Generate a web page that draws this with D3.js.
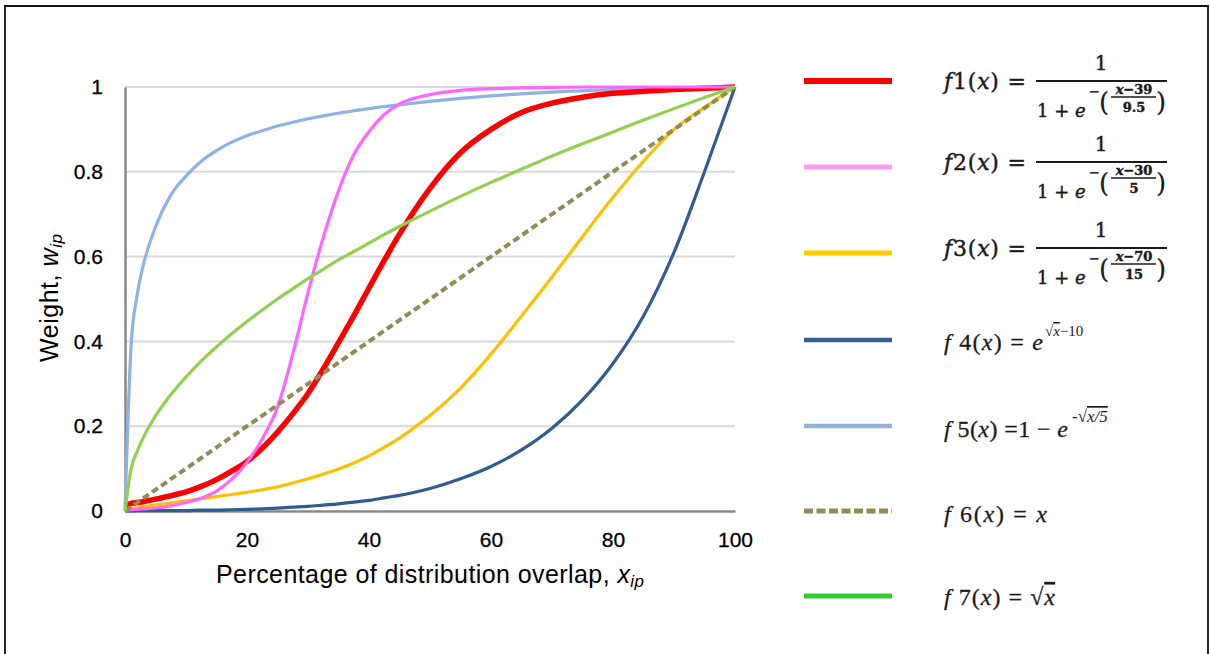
<!DOCTYPE html>
<html>
<head>
<meta charset="utf-8">
<script src="https://cdn.jsdelivr.net/npm/d3@7"></script>
<style>
  body { margin: 0; background: #fff; }
  svg { display: block; }
</style>
</head>
<body>
<svg id="root"></svg>
<script>
// shared x samples (percentage of overlap)
const xs = [0, 1, 2, 3, 5, 7.5, 10, 12.5, 15, 17.5, 20, 22.5, 25, 27.5, 30, 32.5, 35, 37.5, 40, 42.5, 45, 50, 55, 60, 65, 70, 75, 80, 85, 90, 95, 100];

const f1 = [0.012, 0.018, 0.02, 0.022, 0.028, 0.036, 0.045, 0.058, 0.074, 0.094, 0.117, 0.148, 0.186, 0.229, 0.277, 0.335, 0.397, 0.46, 0.526, 0.591, 0.653, 0.761, 0.845, 0.9, 0.94, 0.962, 0.976, 0.985, 0.99, 0.994, 0.997, 1.0];
const f2 = [0.002, 0.003, 0.004, 0.005, 0.007, 0.012, 0.02, 0.03, 0.047, 0.075, 0.115, 0.17, 0.245, 0.37, 0.515, 0.645, 0.755, 0.84, 0.895, 0.935, 0.96, 0.982, 0.992, 0.996, 0.998, 0.999, 1.0, 1.0, 1.0, 1.0, 1.0, 1.0];
const f3 = [0.004, 0.006, 0.008, 0.01, 0.014, 0.019, 0.024, 0.029, 0.034, 0.039, 0.044, 0.05, 0.057, 0.066, 0.076, 0.087, 0.099, 0.113, 0.13, 0.15, 0.172, 0.225, 0.29, 0.37, 0.46, 0.552, 0.647, 0.74, 0.825, 0.9, 0.952, 1.0];
const f4 = [0, 0, 0.001, 0.001, 0.001, 0.001, 0.001, 0.002, 0.002, 0.003, 0.004, 0.005, 0.007, 0.009, 0.011, 0.014, 0.017, 0.021, 0.025, 0.031, 0.037, 0.053, 0.076, 0.105, 0.144, 0.195, 0.262, 0.348, 0.46, 0.61, 0.8, 1.0];
const f5 = [0, 0.39, 0.51, 0.58, 0.67, 0.745, 0.79, 0.825, 0.85, 0.87, 0.885, 0.897, 0.908, 0.917, 0.925, 0.932, 0.938, 0.944, 0.949, 0.954, 0.958, 0.966, 0.973, 0.979, 0.984, 0.988, 0.991, 0.994, 0.996, 0.998, 0.999, 1.0];
const f6 = [0, 0.01, 0.02, 0.03, 0.05, 0.075, 0.1, 0.125, 0.15, 0.175, 0.2, 0.225, 0.25, 0.275, 0.3, 0.325, 0.35, 0.375, 0.4, 0.425, 0.45, 0.5, 0.55, 0.6, 0.65, 0.7, 0.75, 0.8, 0.85, 0.9, 0.95, 1.0];
const f7 = [0, 0.1, 0.141, 0.173, 0.224, 0.274, 0.316, 0.354, 0.387, 0.418, 0.447, 0.474, 0.5, 0.524, 0.548, 0.57, 0.592, 0.612, 0.632, 0.652, 0.671, 0.707, 0.742, 0.775, 0.806, 0.837, 0.866, 0.894, 0.922, 0.949, 0.975, 1.0];

const seriesNames = ['f1', 'f2', 'f3', 'f4', 'f5', 'f6', 'f7'];
const lineColors = ['#ff0000', '#ff66ff', '#ffc000', '#2f5d8f', '#8db3e2', '#948a54', '#92d050'];
const legendColors = ['#ff0000', '#ff99f5', '#ffcc00', '#3a6190', '#95b3d7', '#948a54', '#33cc33'];

const xTicks = [0, 20, 40, 60, 80, 100];
const yTicks = [0, 0.2, 0.4, 0.6, 0.8, 1];
const yTickLabels = ['0', '0.2', '0.4', '0.6', '0.8', '1'];

// sigmoid legend params: centre, spread
const sigCentres = ['39', '30', '70'];
const sigSpreads = ['9.5', '5', '15'];

const W = 1210, H = 654;
const svg = d3.select('#root').attr('width', W).attr('height', H);

const x = d3.scaleLinear().domain([0, 100]).range([125, 735]);
const y = d3.scaleLinear().domain([0, 1]).range([511, 87]);

// outer frame
svg.append('path').attr('d', `M5,${H}V6H1208V${H}`)
  .attr('fill', 'none').attr('stroke', '#111').attr('stroke-width', 1.8);

// gridlines
svg.append('g').selectAll('line')
  .data(yTicks.slice(1))
  .join('line')
    .attr('x1', x(0)).attr('x2', x(100))
    .attr('y1', d => y(d)).attr('y2', d => y(d))
    .attr('stroke', '#d9d9d9').attr('stroke-width', 2);

// axes
const axisFont = '"Liberation Sans", Arial, sans-serif';
const gx = svg.append('g')
  .attr('transform', `translate(0, ${y(0)})`)
  .call(d3.axisBottom(x).tickValues(xTicks).tickSize(0).tickSizeOuter(0).tickPadding(21));
const gy = svg.append('g')
  .attr('transform', `translate(${x(0)}, 0)`)
  .call(d3.axisLeft(y).tickValues(yTicks).tickFormat((d, i) => yTickLabels[i]).tickSize(0).tickSizeOuter(0).tickPadding(22));
[gx, gy].forEach(g => {
  g.select('.domain').attr('stroke', '#878787').attr('stroke-width', 2.5);
  g.selectAll('text').attr('font-family', axisFont).attr('font-size', 21).attr('fill', '#000')
    .attr('stroke', '#000').attr('stroke-width', 0.3);
});

// axis titles
svg.append('text')
  .attr('x', 430).attr('y', 583)
  .attr('text-anchor', 'middle')
  .attr('font-family', axisFont).attr('font-size', 25)
  .attr('textLength', 428).attr('lengthAdjust', 'spacing')
  .call(t => {
    t.append('tspan').text('Percentage of distribution overlap,  ');
    t.append('tspan').attr('font-style', 'italic').text('x');
    t.append('tspan').attr('font-style', 'italic').attr('font-size', 17).attr('dy', 4).text('ip');
  });
svg.append('text')
  .attr('transform', 'translate(58, 298) rotate(-90)')
  .attr('text-anchor', 'middle')
  .attr('font-family', axisFont).attr('font-size', 25)
  .attr('textLength', 128).attr('lengthAdjust', 'spacing')
  .call(t => {
    t.append('tspan').text('Weight, ');
    t.append('tspan').attr('font-style', 'italic').text('w');
    t.append('tspan').attr('font-style', 'italic').attr('font-size', 17).attr('dy', 4).text('ip');
  });

// curves
const allSeries = [f1, f2, f3, f4, f5, f6, f7];
const widths = [5.5, 3.2, 3.2, 3.2, 3.2, 4, 3.2];
const line = d3.line()
  .x((d, i) => x(xs[i]))
  .y(d => y(d))
  .curve(d3.curveMonotoneX);

const drawOrder = [3, 2, 4, 0, 1, 5, 6];
svg.append('g').selectAll('path')
  .data(drawOrder)
  .join('path')
    .attr('d', k => line(allSeries[k]))
    .attr('fill', 'none')
    .attr('stroke', k => lineColors[k])
    .attr('stroke-width', k => widths[k])
    .attr('stroke-dasharray', k => k === 5 ? '7,4' : null)
    .attr('stroke-linejoin', 'round');

// legend
const legendY = [81, 167, 253, 340, 426, 511, 596];
const legendW = [6, 5, 5, 4.5, 4.5, 5, 5];
const leg = svg.append('g');
leg.selectAll('line')
  .data(seriesNames)
  .join('line')
    .attr('x1', 804).attr('x2', 892)
    .attr('y1', (d, i) => legendY[i]).attr('y2', (d, i) => legendY[i])
    .attr('stroke', (d, i) => legendColors[i])
    .attr('stroke-width', (d, i) => legendW[i])
    .attr('stroke-dasharray', (d, i) => i === 5 ? '9,3.5' : null);

const mathFont = '"DejaVu Serif", serif';
const timesFont = '"Liberation Serif", "Times New Roman", serif';
const ink = '#1b1b1b';

// sigmoid formulas f1..f3
[0, 1, 2].forEach(i => {
  const by = legendY[i] - (i === 0 ? 0 : 5);
  const g = leg.append('g').attr('font-family', mathFont).attr('fill', ink)
    .attr('stroke', ink).attr('stroke-width', 0.45);
  g.append('text').attr('x', 944).attr('y', by + 8).attr('font-size', 22)
    .attr('textLength', 82).attr('lengthAdjust', 'spacing')
    .call(t => {
      t.append('tspan').attr('font-style', 'italic').text('f');
      t.append('tspan').text(seriesNames[i].slice(1) + '(');
      t.append('tspan').attr('font-style', 'italic').text('x');
      t.append('tspan').text(') =');
    });
  g.append('line').attr('x1', 1036).attr('x2', 1167).attr('y1', by).attr('y2', by)
    .attr('stroke', ink).attr('stroke-width', 1.8);
  g.append('text').attr('x', 1101).attr('y', by - 11).attr('text-anchor', 'middle')
    .attr('font-size', 20).text('1');
  g.append('text').attr('x', 1037).attr('y', by + 36).attr('font-size', 18)
    .call(t => {
      t.append('tspan').text('1 + ');
      t.append('tspan').attr('font-style', 'italic').text('e');
    });
  g.append('text').attr('x', 1089).attr('y', by + 15).attr('font-size', 13).text('−');
  g.append('text').attr('x', 1099).attr('y', by + 30).attr('font-size', 26).attr('stroke-width', 0.2).text('(');
  g.append('text').attr('x', 1156).attr('y', by + 30).attr('font-size', 26).attr('stroke-width', 0.2).text(')');
  g.append('text').attr('x', 1134).attr('y', by + 13).attr('text-anchor', 'middle').attr('font-size', 13)
    .attr('font-weight', 'bold')
    .call(t => {
      t.append('tspan').attr('font-style', 'italic').text('x');
      t.append('tspan').text('−' + sigCentres[i]);
    });
  g.append('line').attr('x1', 1111).attr('x2', 1156).attr('y1', by + 16).attr('y2', by + 16)
    .attr('stroke', ink).attr('stroke-width', 1.3);
  g.append('text').attr('x', 1134).attr('y', by + 31).attr('text-anchor', 'middle').attr('font-size', 13)
    .attr('font-weight', 'bold').text(sigSpreads[i]);
});

// f4..f7 (Times-style)
function label(i, baseY, rest, len) {
  const t = leg.append('text').attr('x', 944).attr('y', baseY)
    .attr('font-family', timesFont).attr('font-size', 24).attr('fill', ink)
    .attr('stroke', ink).attr('stroke-width', 0.3)
    .attr('textLength', len).attr('lengthAdjust', 'spacing');
  t.append('tspan').attr('font-style', 'italic').text('f');
  t.append('tspan').text(' ' + seriesNames[i].slice(1) + '(');
  t.append('tspan').attr('font-style', 'italic').text('x');
  t.append('tspan').text(')');
  rest(t);
  return t;
}
label(3, 350, t => {
  t.append('tspan').text(' = ');
  t.append('tspan').attr('font-style', 'italic').text('e');
}, 99);
leg.append('text').attr('x', 1045).attr('y', 336).attr('font-family', timesFont).attr('font-size', 15).attr('fill', ink)
  .call(t => {
    t.append('tspan').text('√');
    t.append('tspan').attr('font-style', 'italic').attr('text-decoration', 'overline').text('x');
    t.append('tspan').text('−10');
  });

label(4, 437, t => {
  t.append('tspan').text(' =1 − ');
  t.append('tspan').attr('font-style', 'italic').text('e');
}, 124);
leg.append('text').attr('x', 1072).attr('y', 422).attr('font-family', timesFont).attr('font-size', 17).attr('fill', ink)
  .call(t => {
    t.append('tspan').text('-√');
    t.append('tspan').attr('font-style', 'italic').attr('text-decoration', 'overline').text('x/5');
  });

label(5, 522, t => {
  t.append('tspan').text(' = ');
  t.append('tspan').attr('font-style', 'italic').text('x');
}, 103);

label(6, 605, t => {
  t.append('tspan').text(' = √');
  t.append('tspan').attr('font-style', 'italic').attr('text-decoration', 'overline').text('x');
}, 111);
</script>
</body>
</html>
